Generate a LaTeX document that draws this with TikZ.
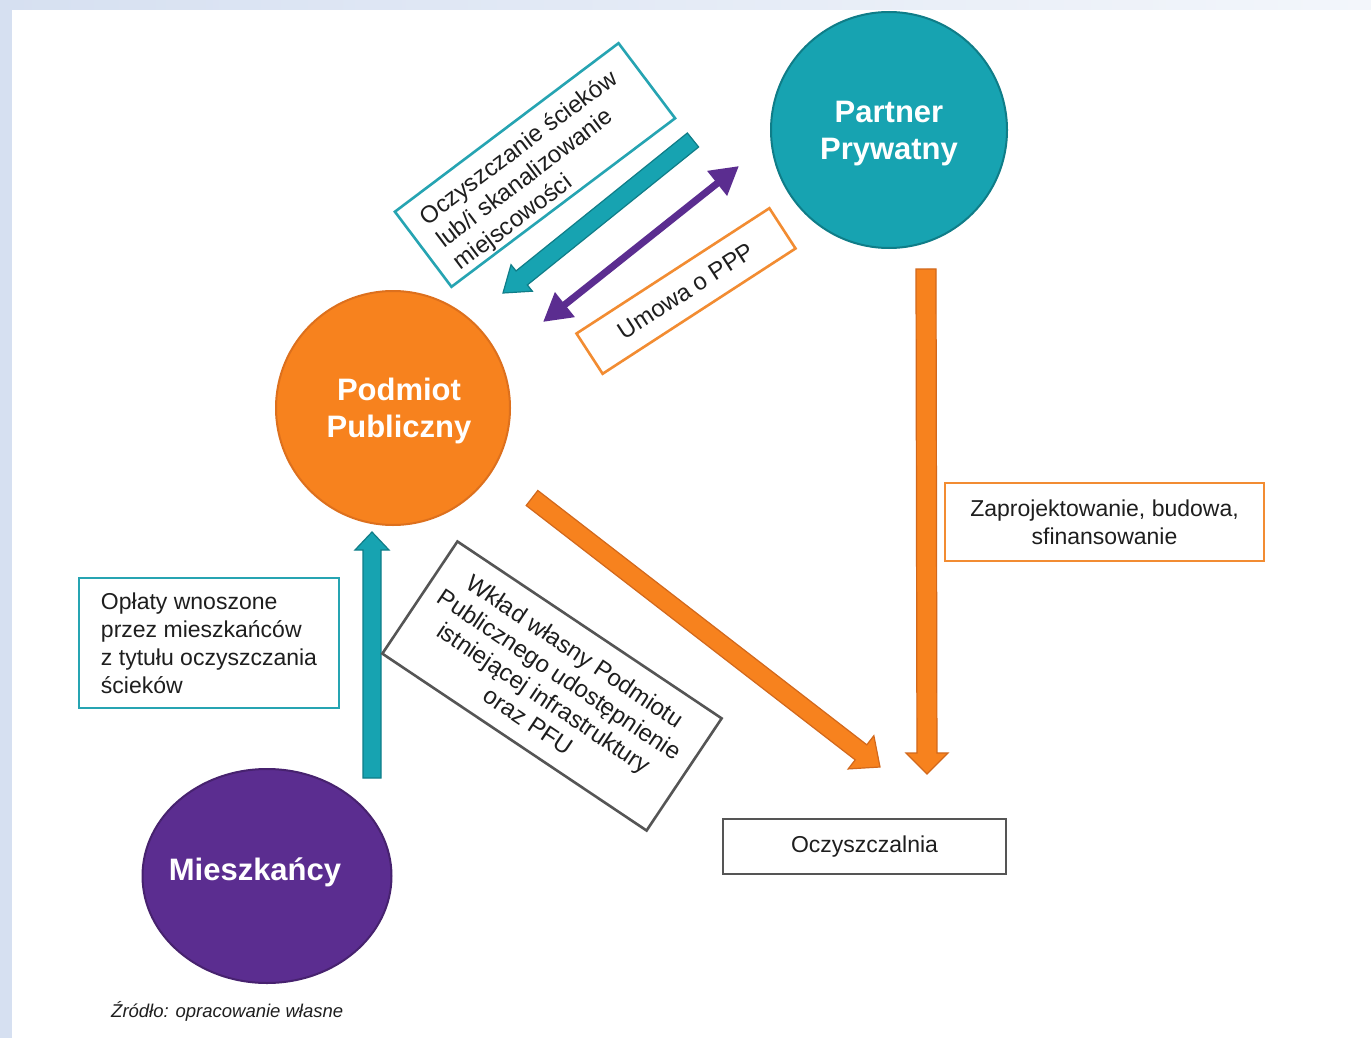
\documentclass[tikz,border=0pt]{standalone}
\usepackage{fontspec}
\setmainfont{Liberation Sans}
\usetikzlibrary{calc,arrows.meta,shapes.geometric}
\definecolor{bgblue}{HTML}{D6E0F1}
\definecolor{bglight}{HTML}{F3F6FB}
\definecolor{tealc}{HTML}{17A3B1}
\definecolor{teald}{HTML}{0F7D88}
\definecolor{orangec}{HTML}{F7821E}
\definecolor{oranged}{HTML}{D2681C}
\definecolor{purplec}{HTML}{5B2D90}
\definecolor{purpled}{HTML}{47226F}
\definecolor{boxteal}{HTML}{26A4B2}
\definecolor{boxorange}{HTML}{F28C32}
\definecolor{boxgray}{HTML}{555555}
\definecolor{txt}{HTML}{1E1E1E}
% block arrow: #1 tail, #2 tip, #3 shaft half width, #4 head half width, #5 head length, #6 style
\newcommand{\blockarr}[6]{%
  \path ($(#2)!#5!(#1)$) coordinate (bahead);
  \filldraw[#6] ($(#1)!#3!90:(#2)$) -- ($(bahead)!#3!90:(#2)$) -- ($(bahead)!#4!90:(#2)$)
    -- (#2) -- ($(bahead)!#4!-90:(#2)$) -- ($(bahead)!#3!-90:(#2)$) -- ($(#1)!#3!-90:(#2)$) -- cycle;
}
\begin{document}
\begin{tikzpicture}[x=1pt,y=-1pt,
  circ/.style={circle, minimum size=#1, inner sep=0pt, line width=2pt},
  circtext/.style={inner sep=0pt, text=white, align=center, font=\fontsize{31}{37}\selectfont\bfseries},
  tbox/.style={rectangle, fill=white, line width=2.6pt, inner sep=0pt, text=txt,
    font=\fontsize{23}{28}\selectfont},
  rtext/.style={font=\fontsize{24}{28}\selectfont, text=txt},
  tealarr/.style={fill=tealc, draw=teald, line width=1.2pt, line join=miter},
  orarr/.style={fill=orangec, draw=oranged, line width=1.2pt, line join=miter}
]
\useasboundingbox (0,0) rectangle (1371,1038);
% background
\fill[bgblue] (0,0) rectangle (1371,1038);
\shade[left color=bgblue, right color=bglight] (0,0) rectangle (1371,10);
\fill[white] (12,10) rectangle (1371,1038);

% circles
\node[circ=236pt, fill=tealc, draw=teald] (pp) at (889,130) {};
\node[circtext] (ppt) at (889,134) {Partner\\Prywatny};
\node[circ=234pt, fill=orangec, draw=oranged!70!orangec] (ps) at (393,408) {};
\node[circtext] (pst) at (399,411) {Podmiot\\Publiczny};
\node[ellipse, minimum width=249pt, minimum height=214pt, inner sep=0pt, fill=purplec, draw=purpled,
  line width=2pt] (mz) at (267,876) {};
\node[circtext] (mzt) at (255,872) {Mieszkańcy};

% arrow end points
\coordinate (t1s) at (693,140);
\coordinate (t1e) at (503,293);
\coordinate (p1s) at (543,322);
\coordinate (p1e) at (739,166);
\coordinate (o1s) at (532,498);
\coordinate (o1e) at (880,767);
\coordinate (o2s) at (926,269);
\coordinate (o2e) at (927,774);
\coordinate (t2s) at (372,778);
\coordinate (t2e) at (372,532);

% arrows
\blockarr{t1s}{t1e}{9pt}{17pt}{24pt}{tealarr}
\draw[purplec, line width=7pt, {Triangle[length=28pt,width=30pt]}-{Triangle[length=28pt,width=30pt]}] (p1s) -- (p1e);
\blockarr{o1s}{o1e}{9.5pt}{21pt}{24pt}{orarr}
\blockarr{o2s}{o2e}{10pt}{21pt}{21pt}{orarr}
\blockarr{t2s}{t2e}{9pt}{17pt}{18pt}{tealarr}

% boxes
\node[tbox, draw=boxteal, minimum width=260pt, minimum height=130pt, align=left] (op) at (209,643)
  {Opłaty wnoszone\\przez mieszkańców\\z tytułu oczyszczania\\ścieków};
\node[tbox, draw=boxorange, minimum width=319pt, minimum height=78pt, align=center] (zb) at (1104.5,522)
  {Zaprojektowanie, budowa,\\sfinansowanie};
\node[tbox, draw=boxgray, minimum width=283pt, minimum height=55pt] (oc) at (864.5,846.5) {Oczyszczalnia};
\node[tbox, draw=boxorange, rotate=33, minimum width=230pt, minimum height=48pt, rtext] (um) at (686,291) {Umowa o PPP};
\node[tbox, draw=boxgray, rotate=-33.8, minimum width=318pt, minimum height=135pt, align=center, rtext] (wk) at (552,686)
  {Wkład własny Podmiotu\\Publicznego udostępnienie\\istniejącej infrastruktury\\oraz PFU};
\begin{scope}[shift={(535,165)}, rotate=37, transform shape]
  \node[tbox, draw=boxteal, minimum width=280pt, minimum height=94pt] (oz) at (0,0) {};
  \node[anchor=north west, align=left, inner sep=0pt, rtext] (ozt) at (-123,-34)
    {Oczyszczanie ścieków\\lub/i skanalizowanie\\miejscowości};
\end{scope}

% source
\node[anchor=west, inner sep=0pt, text=txt, font=\fontsize{18.5}{22}\selectfont\itshape] (src) at (111,1011)
  {Źródło: opracowanie własne};
\end{tikzpicture}
\end{document}
